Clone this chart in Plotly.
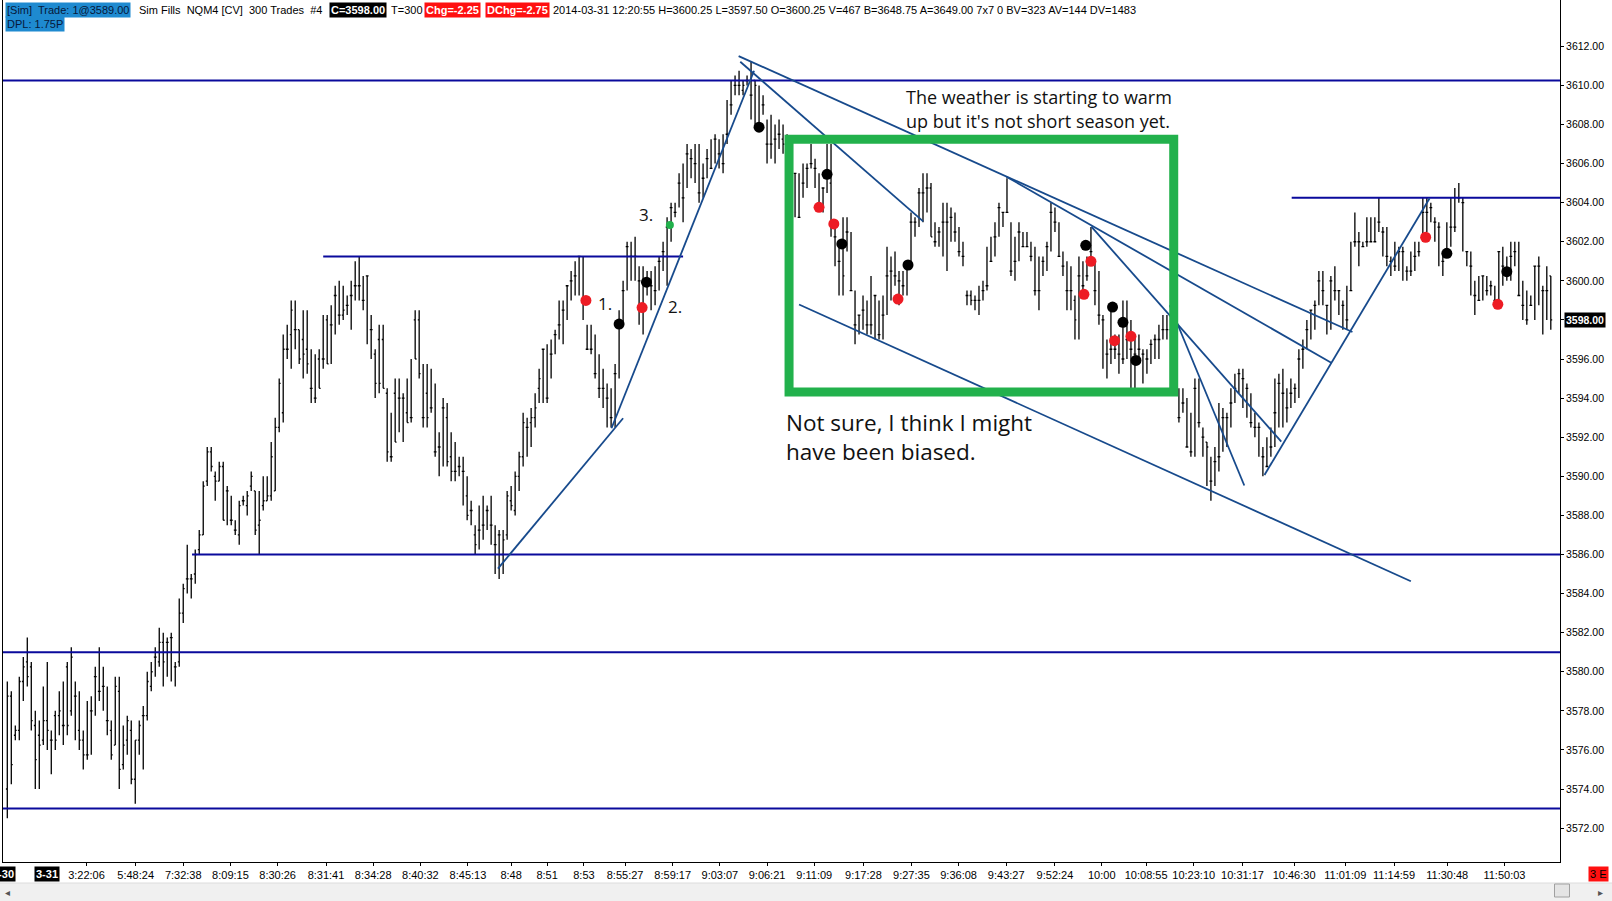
import plotly.graph_objects as go

# bar data, one entry per 300-trade bar
highs = [
    3579.5, 3579, 3577.25, 3579.75, 3580.75, 3581.75, 3580.5, 3578, 3577.5, 3579.25,
    3580.5, 3577, 3578, 3579, 3579.5, 3580.5, 3581.25, 3579.5, 3579, 3577,
    3578.5, 3578.75, 3580.25, 3581.25, 3580.25, 3579.25, 3577.5, 3579.75, 3579.75, 3577.25,
    3577.75, 3577.5, 3576.5, 3577.5, 3578.25, 3580, 3580.5, 3581.25, 3582.25, 3582,
    3581.75, 3582, 3580.5, 3583.75, 3584.5, 3586.5, 3585, 3586.25, 3587.25, 3589.75,
    3591.5, 3591.5, 3590.25, 3590.75, 3590.75, 3589.5, 3589, 3587.75, 3588.75, 3589,
    3589.25, 3590.25, 3589.25, 3589.25, 3590, 3590, 3591.75, 3593, 3595, 3597.25,
    3597.75, 3599, 3599, 3597.5, 3598.5, 3598.5, 3596.5, 3596.25, 3596.5, 3598.25,
    3598.25, 3598.75, 3599.75, 3600, 3599.75, 3599.25, 3600, 3601, 3601.25, 3600.25,
    3600.25, 3598.25, 3596.5, 3597.75, 3597.75, 3594.5, 3593.25, 3595, 3595, 3594.25,
    3595, 3596, 3598.5, 3598.5, 3595.75, 3595.75, 3595.5, 3594.75, 3592.25, 3594,
    3593.75, 3592.25, 3591.75, 3591, 3591, 3590, 3588.75, 3587.5, 3588.5, 3589,
    3588.5, 3589, 3587.5, 3587.25, 3587.25, 3589.25, 3589.5, 3590.25, 3591.25, 3593.25,
    3593, 3593.5, 3594.25, 3595.5, 3596.5, 3596.75, 3597, 3597.5, 3599, 3599,
    3599.75, 3600.5, 3601, 3601.25, 3601.25, 3597.75, 3597.75, 3597.25, 3596.25, 3595.5,
    3594.75, 3594.5, 3595.75, 3598.5, 3600, 3602, 3602, 3602.25, 3600.75, 3600.75,
    3600.5, 3600.5, 3600.75, 3601.25, 3602, 3603.25, 3604, 3604, 3605.5, 3606,
    3607, 3606.75, 3607, 3607, 3606, 3606.75, 3607.25, 3607.5, 3607.25, 3607.5,
    3609.25, 3610.25, 3610.5, 3610.75, 3610.25, 3610.5, 3611.25, 3610.25, 3610, 3609.5,
    3608.25, 3608.5, 3608, 3608.25, 3608, 3607.5, 3607, 3605.5, 3605.5, 3606,
    3606, 3607, 3606.25, 3605.5, 3604.75, 3607, 3607, 3602.75, 3602, 3603.25,
    3603.25, 3602.5, 3599.5, 3598.25, 3599.25, 3599, 3600.25, 3599.25, 3599, 3599.25,
    3601.75, 3601.25, 3601.5, 3600.5, 3600.5, 3600.75, 3603.5, 3603.25, 3604.75, 3605.5,
    3605.5, 3605, 3603, 3602.75, 3604, 3604, 3603.75, 3603.5, 3602.75, 3602,
    3599.5, 3599.5, 3599.25, 3599.75, 3600, 3601.75, 3602.25, 3603, 3604, 3603.5,
    3605.25, 3603, 3602.25, 3603, 3602.5, 3602.5, 3602, 3601.75, 3601.25, 3601.25,
    3602, 3604, 3603.75, 3603, 3601.5, 3601, 3600.75, 3599.25, 3601.25, 3601,
    3601.25, 3602.75, 3601, 3600.5, 3598.25, 3597, 3598.75, 3597.25, 3597.25, 3599,
    3599, 3598, 3597.25, 3597.25, 3596.5, 3596.5, 3597, 3597.25, 3597.75, 3598.25,
    3598.25, 3598.5, 3597.5, 3594.5, 3594.5, 3594, 3593.25, 3595, 3595, 3592.5,
    3591.75, 3591, 3591.5, 3593.75, 3593.5, 3593.25, 3594.5, 3595.25, 3595.5, 3595.5,
    3594.75, 3594.25, 3593.25, 3592.75, 3591.5, 3592, 3592.5, 3595, 3595.25, 3595.5,
    3594.5, 3595, 3594.75, 3596.5, 3597, 3598, 3598.5, 3599, 3600.5, 3600.5,
    3598.75, 3600.25, 3600.75, 3599.5, 3599, 3599.75, 3602, 3603.5, 3602.5, 3602,
    3603.25, 3603.25, 3603.25, 3604.25, 3602.75, 3602.75, 3601.25, 3602, 3601.75, 3601.75,
    3600.75, 3601.5, 3602, 3602, 3604.25, 3604.25, 3604, 3603.25, 3603, 3601.5,
    3603, 3604.25, 3604.75, 3605, 3604.25, 3601.5, 3601.5, 3600, 3600.25, 3600.25,
    3600.25, 3600, 3599.75, 3601.5, 3601.75, 3601.25, 3602, 3602, 3602, 3600,
    3599.5, 3599.25, 3600.75, 3601.25, 3599.75, 3600.75, 3600.25,
]

lows = [
    3572.5, 3574.25, 3576.5, 3576.5, 3578.5, 3579.25, 3577, 3574, 3574, 3576.25,
    3576, 3574.75, 3576, 3576.75, 3576.25, 3576.75, 3577.75, 3576.5, 3576, 3575,
    3575.5, 3575.75, 3577.75, 3578.5, 3578, 3576.75, 3575.5, 3576.25, 3574, 3575,
    3575.75, 3574.25, 3573.25, 3575.75, 3575, 3577.5, 3579, 3579.75, 3580.25, 3579.25,
    3579.75, 3579.5, 3579.25, 3580.25, 3582.5, 3584, 3583.75, 3584.5, 3586, 3587,
    3589.5, 3590.25, 3588.75, 3589.75, 3587.75, 3587.5, 3587.5, 3587, 3586.5, 3588.5,
    3588, 3589.25, 3587, 3586, 3588.25, 3588.75, 3588.75, 3589.25, 3592.25, 3592.75,
    3596, 3595.5, 3596.5, 3595.75, 3595, 3595.25, 3593.75, 3593.75, 3594.5, 3595.5,
    3595.75, 3595.75, 3597.25, 3597.75, 3598, 3598.25, 3597.5, 3599, 3599, 3598.5,
    3596.75, 3596, 3594, 3594.25, 3594.5, 3590.75, 3590.75, 3591.75, 3592.25, 3591.75,
    3592.75, 3592.75, 3596, 3595, 3592.5, 3592.5, 3593.25, 3591, 3590, 3590.5,
    3590.5, 3589.75, 3589.75, 3590, 3588.5, 3587.75, 3587.5, 3586, 3586.25, 3586.75,
    3587.25, 3586.5, 3585, 3584.75, 3585, 3586.75, 3588.25, 3588, 3589.25, 3590.5,
    3591, 3591.5, 3592.5, 3593.75, 3593.75, 3593.75, 3595, 3596.25, 3597, 3596.75,
    3598, 3599, 3599.25, 3599.25, 3598, 3596.5, 3596.25, 3595, 3594, 3593.5,
    3592.5, 3592.5, 3592.5, 3595, 3597.75, 3599.5, 3600, 3600, 3597.75, 3597.25,
    3599.25, 3598.5, 3598.75, 3599.5, 3600.5, 3599.75, 3602, 3603.25, 3603.75, 3603,
    3604.75, 3605.25, 3605, 3604, 3604.25, 3605.25, 3605.75, 3606, 3605.75, 3605.5,
    3607, 3608.5, 3609.5, 3609.5, 3609.5, 3610, 3608.25, 3608, 3607.75, 3608.5,
    3606, 3606.25, 3606, 3606.75, 3606.5, 3605.75, 3605.25, 3603.25, 3603.25, 3604.25,
    3604.75, 3605.75, 3604.75, 3603.75, 3603.5, 3604.5, 3602.25, 3600.75, 3599.25, 3599.25,
    3601.5, 3599.5, 3596.75, 3597.25, 3597.5, 3597.25, 3597.25, 3597, 3597, 3597,
    3598.25, 3599, 3599.75, 3598.75, 3599.25, 3599.25, 3600.75, 3602.25, 3602.75, 3603,
    3603.5, 3602.25, 3601.75, 3601.75, 3601.25, 3600.5, 3602, 3602, 3601.25, 3600.75,
    3598.75, 3598.75, 3598.5, 3598.25, 3599, 3599.5, 3601, 3601.25, 3602.25, 3602.75,
    3603.5, 3600.25, 3600, 3601, 3601.75, 3601.75, 3601, 3599.25, 3598.5, 3600.25,
    3600.5, 3601.5, 3602.5, 3601.25, 3600.25, 3598.5, 3598.5, 3597, 3597, 3599.25,
    3600, 3601, 3598.75, 3597.75, 3595.5, 3595, 3595.75, 3596, 3595.25, 3595.75,
    3596, 3594.5, 3594.5, 3596, 3594.75, 3595.25, 3595.75, 3596, 3596, 3597,
    3597, 3596.5, 3595, 3592.75, 3593.25, 3591.5, 3591, 3591, 3592.5, 3591,
    3589.5, 3588.75, 3589.5, 3590.25, 3591.25, 3591.5, 3592.5, 3593.75, 3594.25, 3593.5,
    3593, 3592.5, 3592, 3591, 3590, 3590.5, 3591, 3591.5, 3592.5, 3592.5,
    3592.75, 3593.5, 3593.75, 3594, 3595.5, 3596.5, 3597, 3597.5, 3598.75, 3598.75,
    3597.25, 3597.5, 3599, 3598.25, 3597.5, 3597.5, 3599.5, 3601.75, 3600.75, 3601.75,
    3601.75, 3602, 3602, 3602.5, 3601.25, 3600.75, 3600.25, 3600.5, 3600.5, 3600,
    3600, 3600.25, 3600.5, 3601.25, 3602, 3602.5, 3603, 3602, 3600.75, 3600.25,
    3601.25, 3601.75, 3602.5, 3604, 3601.5, 3600.75, 3599.25, 3598.25, 3599, 3599,
    3599.25, 3599.25, 3598.75, 3599, 3599.75, 3600, 3600, 3600.75, 3599.25, 3598,
    3597.75, 3598.75, 3598, 3598.75, 3597.25, 3598, 3597.5,
]

opens = [
    3574, 3578.75, 3576.75, 3577, 3579.5, 3580.5, 3580.25, 3577.25, 3576.75, 3576.5,
    3577.5, 3576.5, 3577.75, 3577.75, 3577.25, 3580.25, 3578, 3578.75, 3577, 3576.5,
    3575.75, 3578, 3579.75, 3579, 3579.25, 3577.5, 3577, 3576.25, 3579, 3575.25,
    3576.5, 3577, 3574.5, 3576.5, 3577.75, 3577.75, 3579.25, 3580.75, 3580.5, 3581.5,
    3581.5, 3581.75, 3580.25, 3580.5, 3583, 3584.75, 3584.75, 3585, 3586.25, 3587,
    3589.75, 3591.25, 3590, 3589.75, 3590.5, 3589.25, 3587.75, 3587.25, 3587, 3588.75,
    3588.5, 3589.5, 3589.25, 3587.5, 3588.5, 3588.75, 3589, 3589.25, 3592.5, 3593.25,
    3596.5, 3597.25, 3597.5, 3597.5, 3597, 3596.5, 3594.5, 3594, 3596, 3596,
    3598, 3597.75, 3599.25, 3598.25, 3598.25, 3598.75, 3599.25, 3599.75, 3599.75, 3599,
    3600.25, 3597.5, 3596.25, 3597, 3597, 3594.25, 3591, 3594.25, 3594, 3594,
    3593.25, 3593, 3598, 3598, 3593, 3594.25, 3593.5, 3591.25, 3591.5, 3593.5,
    3593, 3591, 3590.25, 3590.5, 3590.25, 3589, 3588.25, 3587, 3587.25, 3587.5,
    3588.25, 3587.5, 3586.5, 3587, 3586, 3587, 3588.75, 3588.25, 3590, 3591,
    3592.5, 3592.75, 3593, 3594.5, 3596.5, 3594, 3596.25, 3597.25, 3597.75, 3598.5,
    3599.75, 3600, 3600.25, 3601.25, 3599, 3596.5, 3596.5, 3595.25, 3594.5, 3594.5,
    3594, 3593, 3595.25, 3597.75, 3599.5, 3601.75, 3601.25, 3601.25, 3600, 3598.5,
    3599.75, 3599.75, 3599.5, 3601, 3601.5, 3602.75, 3603.75, 3603.5, 3605, 3604.25,
    3606.5, 3606.25, 3606, 3604.5, 3605.25, 3606.25, 3605.75, 3607.25, 3606.5, 3606,
    3607.5, 3609, 3610, 3610, 3609.75, 3610.25, 3609.5, 3610.25, 3608, 3609,
    3607, 3607, 3607.25, 3607.5, 3607.25, 3606.75, 3606, 3605.5, 3603.25, 3605,
    3605.75, 3606, 3605.75, 3604, 3604.75, 3605.5, 3605, 3602.25, 3601, 3601.75,
    3602.5, 3599.5, 3597.75, 3598.25, 3598.5, 3597.75, 3597.75, 3599.25, 3597.25, 3598.25,
    3600.25, 3600.5, 3600.25, 3600, 3599.75, 3600.75, 3603, 3603, 3604.5, 3604.5,
    3604.75, 3604.75, 3602, 3602.5, 3603, 3603, 3603.25, 3602.5, 3601.5, 3601.25,
    3599.25, 3599.25, 3599, 3599, 3599.5, 3599.75, 3601, 3602.25, 3603.75, 3603.5,
    3603.5, 3600.5, 3601, 3602.5, 3601.75, 3601.75, 3601.25, 3599.5, 3599.5, 3601,
    3601.75, 3603.5, 3603, 3601.25, 3600.75, 3599.5, 3599.5, 3599, 3600.25, 3599.75,
    3600.25, 3601.5, 3599.5, 3598.25, 3598, 3596.25, 3596.5, 3596.5, 3596.25, 3596,
    3597, 3596.5, 3596.25, 3596.5, 3596.25, 3596, 3596.75, 3597, 3597, 3597.5,
    3597.5, 3597.5, 3596.5, 3593, 3593.75, 3591.5, 3591.25, 3594.5, 3592.75, 3592,
    3591.75, 3589.75, 3590.75, 3591, 3593, 3593, 3593.75, 3594.5, 3595.25, 3595,
    3594.5, 3592.75, 3592.5, 3592.5, 3591, 3590.5, 3591.5, 3593.25, 3594.75, 3594.25,
    3593.5, 3594.25, 3594.5, 3596, 3596.5, 3597.5, 3598.5, 3598.75, 3600, 3599.5,
    3598.75, 3600, 3599.5, 3599.5, 3598.75, 3598, 3599.5, 3602, 3602, 3601.75,
    3602, 3602, 3602, 3603, 3602.5, 3601.25, 3601, 3600.75, 3601.5, 3601.5,
    3600.5, 3600.5, 3601.25, 3601.5, 3603.5, 3603.5, 3603.75, 3603, 3602.75, 3601,
    3601.5, 3602.75, 3602.75, 3604.25, 3604, 3601.5, 3600.75, 3599.25, 3599, 3600.25,
    3599.5, 3599.75, 3599, 3601.5, 3600.75, 3600.5, 3601.25, 3601.5, 3599.25, 3598.75,
    3598, 3598.75, 3600.75, 3600.75, 3599.5, 3599.5, 3600.25,
]

closes = [
    3578.75, 3575.25, 3577, 3579.5, 3580.25, 3579.75, 3577.5, 3575.5, 3576.25, 3577.5,
    3577, 3576.5, 3576.5, 3578, 3577.25, 3577.25, 3580.75, 3578.75, 3576.5, 3575.75,
    3575.75, 3578, 3579.75, 3579, 3579.25, 3577.5, 3575.75, 3579.25, 3575, 3576.25,
    3577.5, 3574.5, 3576.5, 3577.25, 3577.75, 3579.5, 3580, 3580.75, 3581.5, 3580.5,
    3581.5, 3581.75, 3580.25, 3583, 3584.25, 3584.75, 3584.75, 3586, 3587, 3589.5,
    3591.25, 3590.5, 3589.75, 3590.5, 3587.75, 3589.25, 3587.75, 3587.25, 3588.5, 3588.75,
    3589, 3590, 3587.25, 3587.75, 3588.75, 3589, 3591, 3592.5, 3594.75, 3596.5,
    3596.5, 3598.5, 3597.5, 3596, 3596.25, 3595.75, 3594.5, 3594, 3594.5, 3596,
    3595.75, 3597.75, 3599.25, 3598.25, 3598.5, 3598.75, 3599.25, 3599.75, 3599.75, 3599,
    3600.25, 3597.5, 3594.75, 3594.75, 3594.5, 3591.25, 3591, 3591.75, 3594, 3594,
    3592.75, 3593, 3596, 3595.25, 3593, 3593, 3593.5, 3591.25, 3591.5, 3593.5,
    3590.75, 3590.25, 3590.25, 3590.5, 3590.25, 3588, 3588.25, 3586.5, 3587.25, 3587.5,
    3588.25, 3587.5, 3586.5, 3587, 3586.75, 3589, 3588.5, 3590, 3591, 3592.75,
    3592.5, 3593, 3593.5, 3595, 3596.5, 3594, 3596.25, 3597.25, 3597.75, 3598.5,
    3599.75, 3600, 3600.25, 3601.25, 3599, 3596.5, 3596.5, 3595.25, 3594.5, 3594.5,
    3594, 3593, 3595.25, 3597.75, 3599.5, 3601.75, 3601.25, 3601.25, 3600, 3598.5,
    3599.75, 3599.75, 3599.5, 3601, 3601.5, 3602.75, 3603.75, 3603.5, 3605, 3604.25,
    3606.5, 3606.25, 3606, 3604.5, 3605.25, 3606.25, 3605.75, 3607.25, 3606.5, 3606,
    3607.5, 3609, 3610, 3610, 3610, 3610.25, 3609.5, 3610, 3608, 3609,
    3607, 3607, 3607.25, 3607.5, 3607, 3606.25, 3605.5, 3605.5, 3603.25, 3605,
    3605.75, 3606, 3605.75, 3604, 3604.75, 3605.5, 3602.75, 3602.25, 3601, 3600.25,
    3602.5, 3599.5, 3597.75, 3598.25, 3598.5, 3597.75, 3597.75, 3599.25, 3597.25, 3598.25,
    3600.25, 3600.5, 3600.25, 3600, 3599.75, 3600.75, 3603, 3603, 3604.5, 3604.5,
    3604.75, 3602.25, 3602, 3602.5, 3603, 3603, 3603.25, 3602.5, 3601.5, 3601.25,
    3599.25, 3599, 3599, 3599, 3599.5, 3599.75, 3601, 3602.25, 3603.75, 3603.5,
    3603.5, 3600.5, 3601, 3602.5, 3601.75, 3601.75, 3601.25, 3599.5, 3599.5, 3601,
    3601.75, 3603.5, 3603, 3601.25, 3600.75, 3599.5, 3599.5, 3598, 3600.25, 3599.75,
    3600.25, 3601.5, 3599.5, 3598.25, 3598, 3596.25, 3596.5, 3596.5, 3596.25, 3596,
    3597, 3596.5, 3596.25, 3596.5, 3596.25, 3596, 3596.75, 3597, 3597, 3597.5,
    3597.5, 3597, 3595.5, 3593, 3593.75, 3591.5, 3591.25, 3594.5, 3592.75, 3592,
    3591.5, 3589.75, 3590.75, 3591, 3593, 3593, 3593.75, 3594.5, 3595.25, 3595,
    3594.5, 3592.75, 3592.5, 3592.5, 3591, 3590.5, 3591.5, 3593.25, 3594.75, 3594.25,
    3593.5, 3594.25, 3594.5, 3596, 3596.5, 3597.5, 3598.5, 3598.75, 3600, 3599.5,
    3598.75, 3600, 3599.5, 3599.5, 3598.75, 3598, 3599.5, 3602, 3602, 3601.75,
    3602, 3602, 3602, 3603, 3602.5, 3601.25, 3601, 3600.75, 3601.5, 3601.5,
    3600.5, 3600.5, 3601.25, 3601.5, 3603.5, 3603.5, 3603.75, 3603, 3602.75, 3601,
    3601.5, 3602.75, 3602.75, 3604.25, 3604, 3601.5, 3600.75, 3599.25, 3599, 3600.25,
    3599.5, 3599.75, 3599, 3601.5, 3600.75, 3600.5, 3601.25, 3601.5, 3599.25, 3598.75,
    3598, 3598.75, 3600.75, 3600.75, 3599.5, 3599.5, 3598,
]

# time axis labels and the bar they sit under
time_ticks = [19.8, 32.1, 44.0, 55.8, 67.6, 79.7, 91.5, 103.3, 115.2, 126.0,
              135.0, 144.2, 154.5, 166.4, 178.2, 190.0, 201.8, 214.1, 226.1, 237.9,
              249.8, 262.0, 273.7, 284.8, 296.7, 308.9, 321.8, 334.6, 346.8, 360.1, 374.4]
time_labels = ["3:22:06", "5:48:24", "7:32:38", "8:09:15", "8:30:26", "8:31:41", "8:34:28",
               "8:40:32", "8:45:13", "8:48", "8:51", "8:53", "8:55:27", "8:59:17", "9:03:07",
               "9:06:21", "9:11:09", "9:17:28", "9:27:35", "9:36:08", "9:43:27", "9:52:24",
               "10:00", "10:08:55", "10:23:10", "10:31:17", "10:46:30", "11:01:09",
               "11:14:59", "11:30:48", "11:50:03"]
date_ticks = [-1.0, 10.0]
date_labels = ["3-30", "3-31"]

price_ticks = [3572, 3574, 3576, 3578, 3580, 3582, 3584, 3586, 3588, 3590, 3592,
               3594, 3596, 3598, 3600, 3602, 3604, 3606, 3608, 3610, 3612]
last_price = 3598.00

# drawn support / resistance levels: price, first bar, last bar
level_price = [3610.25, 3601.25, 3604.25, 3586.0, 3581.0, 3573.0]
level_start = [-2, 79.0, 321.2, 46.2, -2, -2]
level_end = [390, 169.0, 390, 390, 390, 390]

# hand drawn trend lines: bar0, price0, bar1, price1
trend_lines = [
    (122.7, 3585.28, 154.0, 3592.97),
    (151.1, 3592.46, 186.75, 3610.75),
    (183.3, 3611.21, 229.05, 3603.04),
    (182.9, 3611.5, 336.4, 3597.38),
    (249.85, 3605.33, 331.2, 3595.8),
    (271.1, 3602.77, 318.6, 3591.77),
    (290.7, 3598.75, 309.35, 3589.53),
    (198.0, 3598.79, 351.0, 3584.63),
    (314.4, 3590.07, 355.7, 3604.23),
]

# fills
red_x = [144.7, 158.75, 203.0, 206.7, 222.75, 269.25, 271.0, 276.9, 281.0, 354.7, 372.75]
red_y = [3599.0, 3598.63, 3603.76, 3602.91, 3599.07, 3599.31, 3601.0, 3596.94, 3597.16, 3602.23, 3598.8]
black_x = [153.0, 159.85, 188.0, 205.0, 208.7, 225.25, 269.7, 276.4, 279.0, 282.25, 360.0, 375.0]
black_y = [3597.79, 3599.93, 3607.86, 3605.45, 3601.89, 3600.81, 3601.82, 3598.66, 3597.88, 3595.93, 3601.41, 3600.47]
green_x = [165.7]
green_y = [3602.86]

box = (195.5, 3594.31, 291.7, 3607.25)

W, H = 1612, 901
PL, PR, PT, PB = 3, 1560.5, 0, 862


def fx(px):
    return (px - PL) / (PR - PL)


def fy(py):
    return (PB - py) / (PB - PT)


n = len(highs)
fig = go.Figure()

fig.add_trace(go.Ohlc(
    x=list(range(n)), open=opens, high=highs, low=lows, close=closes,
    increasing=dict(line=dict(color="black", width=1.3)),
    decreasing=dict(line=dict(color="black", width=1.3)),
    tickwidth=0.35, hoverinfo="skip", showlegend=False))

for xs, ys, col, sz in [(red_x, red_y, "#ed1c24", 11), (black_x, black_y, "black", 11),
                        (green_x, green_y, "#22b14c", 8)]:
    fig.add_trace(go.Scatter(x=xs, y=ys, mode="markers", showlegend=False, hoverinfo="skip",
                             marker=dict(color=col, size=sz, line=dict(width=0))))

shapes = []
for p, a, b in zip(level_price, level_start, level_end):
    shapes.append(dict(type="line", xref="x", yref="y", x0=a, x1=b, y0=p, y1=p,
                       line=dict(color="#0a0a9c", width=2)))
for x0, y0, x1, y1 in trend_lines:
    shapes.append(dict(type="line", xref="x", yref="y", x0=x0, y0=y0, x1=x1, y1=y1,
                       line=dict(color="#174a8c", width=1.8)))
shapes.append(dict(type="rect", xref="x", yref="y", x0=box[0], y0=box[1], x1=box[2], y1=box[3],
                   line=dict(color="#22b14c", width=9)))
# scroll bar under the chart
shapes.append(dict(type="rect", xref="paper", yref="paper", x0=fx(-2), x1=fx(1614),
                   y0=fy(903), y1=fy(883), fillcolor="#f0f0f0", line=dict(color="#dcdcdc", width=1),
                   layer="above"))
shapes.append(dict(type="rect", xref="paper", yref="paper", x0=fx(1555), x1=fx(1570),
                   y0=fy(897), y1=fy(884), fillcolor="#e4e4e4", line=dict(color="#a0a0a0", width=1),
                   layer="above"))

hfont = dict(family="Liberation Sans", size=11, color="black")
ann = []


def head(text, px, py, bg=None, color="black", bold=False):
    t = "<b>" + text + "</b>" if bold else text
    ann.append(dict(text=t, xref="paper", yref="paper", x=fx(px), y=fy(py), xanchor="left",
                    yanchor="middle", showarrow=False, bgcolor=bg, borderpad=1,
                    font=dict(hfont, color=color)))


head("[Sim]\u00a0 Trade: 1@3589.00", 5, 10, bg="#1e8ad0", color="#06183a")
head("Sim Fills\u00a0 NQM4 [CV]\u00a0 300 Trades\u00a0 #4", 137, 10)
head("C=3598.00", 329, 10, bg="black", color="white", bold=True)
head("T=300", 389, 10)
head("Chg=-2.25", 424, 10, bg="#ff1010", color="white", bold=True)
head("DChg=-2.75", 485, 10, bg="#ff1010", color="white", bold=True)
head("2014-03-31 12:20:55 H=3600.25 L=3597.50 O=3600.25 V=467 B=3648.75 A=3649.00 "
     "7x7 0 BV=323 AV=144 DV=1483", 551, 10)
head("DPL: 1.75P", 5, 24, bg="#1e8ad0", color="#06183a")

for t, k in zip(date_labels, date_ticks):
    ann.append(dict(text="<b>" + t + "</b>", xref="x", yref="paper", x=k, y=fy(874),
                    xanchor="center", yanchor="middle", showarrow=False, bgcolor="black",
                    borderpad=1, font=dict(family="Liberation Sans", size=11, color="white")))
ann.append(dict(text="3 E", xref="paper", yref="paper", x=fx(1589), y=fy(874), xanchor="left",
                yanchor="middle", showarrow=False, bgcolor="#ff1010", borderpad=1,
                font=dict(family="Liberation Sans", size=11, color="black")))
ann.append(dict(text="<b>%.2f</b>" % last_price, xref="paper", yref="y", x=fx(1565), y=last_price,
                xanchor="left", yanchor="middle", showarrow=False, bgcolor="black", borderpad=1,
                font=dict(family="Liberation Sans", size=10.5, color="white")))
for t, px in [("\u25c2", 8), ("\u25b8", 1601)]:
    ann.append(dict(text=t, xref="paper", yref="paper", x=fx(px), y=fy(892), xanchor="center",
                    yanchor="middle", showarrow=False,
                    font=dict(family="DejaVu Sans", size=10, color="#555555")))

nfont = dict(family="Open Sans", size=17, color="#111111")
for t, px, py in [("1.", 605, 303), ("2.", 675, 306), ("3.", 646, 215)]:
    ann.append(dict(text=t, xref="paper", yref="paper", x=fx(px), y=fy(py), xanchor="center",
                    yanchor="middle", showarrow=False, font=nfont))

note_lines = ["The weather is starting to warm", "up but it's not short season yet.",
              "Not sure, I think I might", "have been biased."]
for t, px, py, sz in zip(note_lines, [904, 904, 784, 784], [97.2, 120.6, 422.3, 451.8],
                         [18, 18, 22.5, 22.5]):
    ann.append(dict(text=t, xref="paper", yref="paper", x=fx(px), y=fy(py), xanchor="left",
                    yanchor="middle", showarrow=False,
                    font=dict(family="Open Sans", size=sz, color="#111111")))

fig.update_layout(
    width=W, height=H, margin=dict(l=PL, r=W - PR, t=PT, b=H - PB, pad=0),
    paper_bgcolor="white", plot_bgcolor="white", showlegend=False,
    shapes=shapes, annotations=ann,
    xaxis=dict(range=[(PL - 7.3) / 4, (PR - 7.3) / 4], rangeslider=dict(visible=False),
               showgrid=False, zeroline=False, showline=True, linecolor="black", linewidth=1,
               tickvals=time_ticks, ticktext=time_labels, ticks="outside", ticklen=3,
               tickcolor="black", tickfont=dict(family="Liberation Sans", size=11, color="black"),
               automargin=False, fixedrange=True),
    yaxis=dict(range=[3570.266, 3614.369], side="right", showgrid=False, zeroline=False,
               showline=True, mirror=True, linecolor="black", linewidth=1,
               tickvals=price_ticks, ticktext=["%.2f" % v for v in price_ticks],
               ticks="outside", ticklen=3, tickcolor="black",
               tickfont=dict(family="Liberation Sans", size=10.5, color="black"),
               automargin=False, fixedrange=True),
)

fig.write_html("out.html", config={"displayModeBar": False},
               post_script="document.body.style.margin='0';"
                           "document.body.style.overflow='hidden';")
